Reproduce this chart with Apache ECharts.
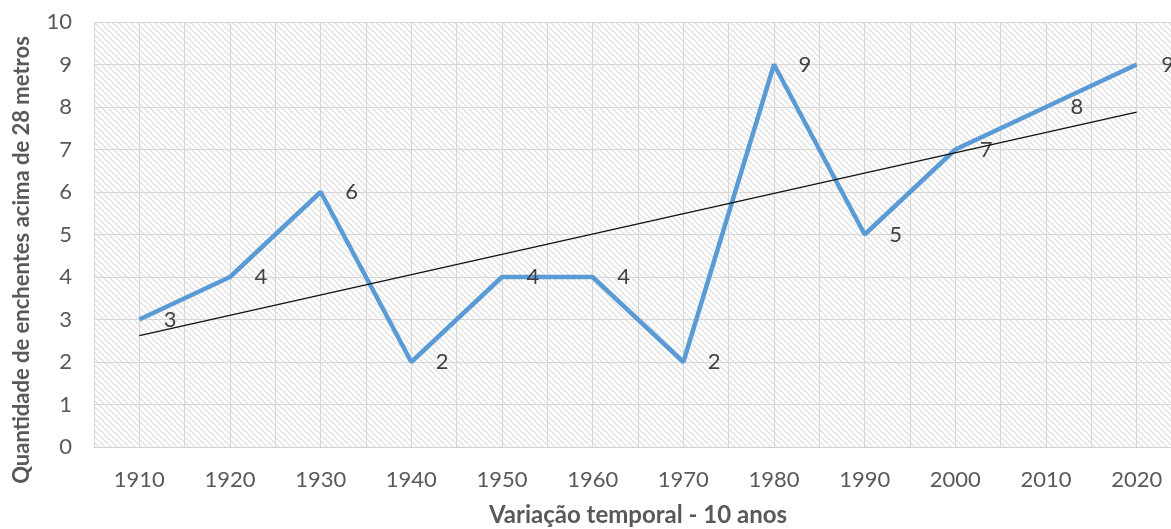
<!DOCTYPE html>
<html><head><meta charset="utf-8">
<script src="https://cdn.jsdelivr.net/npm/echarts@6/dist/echarts.min.js"></script>
<style>html,body{margin:0;padding:0;background:#fff}#c{width:1171px;height:529px}</style>
</head><body><div id="c"></div>
<script>
const categories = ['1910','1920','1930','1940','1950','1960','1970','1980','1990','2000','2010','2020'];
const floods = [3,4,6,2,4,4,2,9,5,7,8,9];
// linear trend line endpoints (1910 and 2020)
const trendEnds = [2.62, 7.88];
const yTicks = [0,1,2,3,4,5,6,7,8,9,10];

const trendData = categories.map((c,i)=> i===0 ? trendEnds[0] : (i===categories.length-1 ? trendEnds[1] : null));

// hatch pattern
const pc = document.createElement('canvas');
pc.width = 6; pc.height = 6;
const g = pc.getContext('2d');
g.fillStyle = '#ffffff'; g.fillRect(0,0,6,6);
g.strokeStyle = '#dcdcdc'; g.lineWidth = 1.2;
g.beginPath(); g.moveTo(-1,-1); g.lineTo(7,7); g.moveTo(-1,5); g.lineTo(1,7); g.moveTo(5,-1); g.lineTo(7,1); g.stroke();

const font = 'Lato';
const chart = echarts.init(document.getElementById('c'), null, {renderer:'canvas'});
chart.setOption({
  animation:false,
  backgroundColor:'#ffffff',
  grid:{left:94, right:-11, top:22, bottom:82, show:true, borderWidth:0,
        containLabel:false, outerBoundsMode:'none',
        backgroundColor:{image:pc, repeat:'repeat'}},
  xAxis:[{
    type:'category', data:categories, boundaryGap:true,
    axisLine:{lineStyle:{color:'#d0d0d0', width:1}},
    axisTick:{show:false},
    axisLabel:{color:'#595959', fontSize:22, fontFamily:font, margin:22},
    splitLine:{show:false},
    name:'Variação temporal - 10 anos', nameLocation:'middle', nameGap:56,
    nameTextStyle:{color:'#595959', fontSize:24, fontWeight:'bold', fontFamily:font}
  },{
    type:'value', min:0, max:24, interval:1, position:'bottom',
    axisLine:{show:false}, axisTick:{show:false}, axisLabel:{show:false},
    splitLine:{show:true, lineStyle:{color:'#d6d6d6', width:1}}
  }],
  yAxis:{
    type:'value', min:0, max:10, interval:1,
    axisLine:{show:false}, axisTick:{show:false},
    axisLabel:{color:'#595959', fontSize:22, fontFamily:font, margin:22,
      formatter:(v)=> yTicks.includes(v) ? String(v) : ''},
    splitLine:{show:true, lineStyle:{color:'#d6d6d6', width:1}}
  },
  graphic:[{
    type:'text', x:22, y:260, rotation:Math.PI/2,
    style:{text:'Quantidade de enchentes acima de 28 metros', fill:'#595959',
      font:'bold 22px Lato', align:'center', verticalAlign:'middle'}
  }],
  series:[{
    type:'line', xAxisIndex:0, data:floods,
    symbol:'circle', symbolSize:1, itemStyle:{color:'rgba(0,0,0,0)'},
    lineStyle:{color:'#5B9BD5', width:4.5},
    label:{show:true, position:'right', distance:24, color:'#404040', fontSize:22, fontFamily:font},
    z:3
  },{
    type:'line', xAxisIndex:0, data:trendData, connectNulls:true,
    symbol:'none', lineStyle:{color:'#111111', width:1.3}, z:4, silent:true
  }]
});
</script></body></html>
